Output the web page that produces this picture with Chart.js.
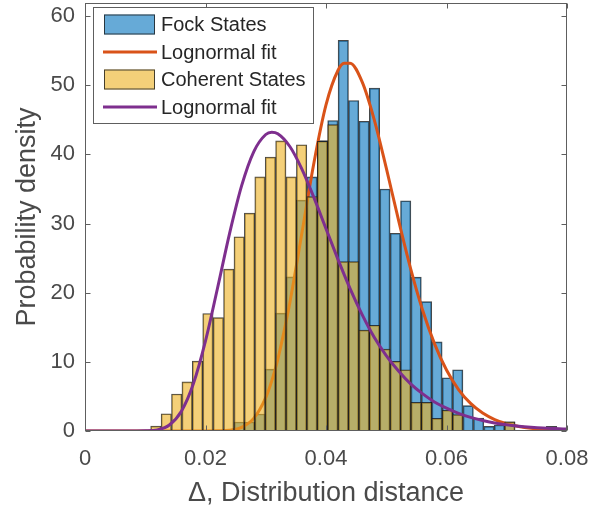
<!DOCTYPE html>
<html><head><meta charset="utf-8">
<script src="https://cdn.jsdelivr.net/npm/chart.js@4/dist/chart.umd.min.js"></script>
<style>html,body{margin:0;padding:0;background:#fff;} #wrap{width:609px;height:511px;}</style>
</head><body><div id="wrap"><canvas id="c" width="609" height="511"></canvas></div>
<script>
// ---- data ----
const binCenters = [0.01176,0.01349,0.01522,0.01695,0.01867,0.02040,0.02213,0.02386,0.02559,0.02731,
  0.02904,0.03077,0.03250,0.03423,0.03595,0.03768,0.03941,0.04114,0.04287,0.04459,
  0.04632,0.04805,0.04978,0.05151,0.05323,0.05496,0.05669,0.05842,0.06015,0.06187,
  0.06360,0.06533,0.06706,0.06879,0.07051,0.07224,0.07397,0.07570,0.07743];
const fockDensity = [0,0,0,0,0,0,0,0,1.3,1.3,
  2.46,8.96,17.05,22.3,33.4,36.75,42.0,44.9,56.5,47.8,
  44.8,49.6,35.0,28.6,33.3,22.25,18.7,12.9,7.7,8.86,
  3.66,1.88,0.68,0.87,1.34,0,0,0,0.68];
const coherentDensity = [0.7,2.5,5.35,7.1,10.1,17.0,16.4,23.4,28.1,31.5,
  36.75,39.6,41.95,36.75,41.4,33.9,41.9,44.3,24.5,24.5,
  14.6,15.3,11.85,10.07,8.86,4.14,4.14,1.83,3.0,2.36,
  0,0,0,0,1.34,0,0,0,0];
const fitX = [0,0.002,0.004,0.006,0.008,0.010,0.012,0.014,0.016,0.018,0.020,0.022,0.024,0.026,0.028,0.030,0.031,
  0.032,0.034,0.036,0.038,0.040,0.042,0.043,0.044,0.046,0.048,0.050,0.052,0.054,0.056,0.058,0.060,
  0.062,0.064,0.066,0.068,0.070,0.072,0.074,0.076,0.078,0.080];
const fockFit = [0,0,0,0,0,0,0,0,0,0,0,0.02,0.11,0.53,1.83,4.84,7.25,
  10.37,18.57,28.62,38.81,47.17,52.18,53.18,53.18,50.48,45.04,38.04,30.63,23.64,17.57,12.64,8.83,
  6.00,3.99,2.60,1.66,1.04,0.65,0.39,0.24,0.14,0.08];
const coherentFit = [0,0,0,0,0,0.02,0.16,0.86,2.85,6.86,13.03,20.68,28.59,35.48,40.38,42.88,43.22,
  43.00,41.15,37.88,33.75,29.26,24.79,22.65,20.59,16.82,13.55,10.9,8.7,6.85,5.4,4.2,3.3,
  2.55,1.97,1.52,1.17,0.9,0.7,0.55,0.43,0.35,0.28];
const xTicks = [0,0.02,0.04,0.06,0.08];
const yTicks = [0,10,20,30,40,50,60];
const seriesNames = ['Fock States','Lognormal fit','Coherent States','Lognormal fit'];
const xLabel = 'Δ, Distribution distance';
const yLabel = 'Probability density';

// ---- styling ----
const FONT = '"Liberation Sans", Arial, Helvetica, sans-serif';
const C = {
  fockFill:'rgba(0,114,189,0.6)', cohFill:'rgba(237,177,32,0.6)',
  fockLine:'#D95319', cohLine:'#7E2F8E', edge:'rgba(25,25,25,0.8)',
  axis:'#5e5e5e', text:'#4a4a4a', legendText:'#262626'
};
const pts = (xs, ys) => xs.map((x, i) => ({x: x, y: ys[i]}));

const framePlugin = {
  id: 'frame',
  afterDatasetsDraw(chart) {
    const {ctx, chartArea: a, scales: {x, y}} = chart;
    const L = Math.round(a.left) + 0.5, R = Math.round(a.right) - 0.5;
    const T = Math.round(a.top) + 0.5, B = Math.round(a.bottom) - 0.5;
    ctx.save();
    ctx.strokeStyle = C.axis; ctx.lineWidth = 1;
    ctx.strokeRect(L, T, R - L, B - T);
    const tl = 5;
    ctx.beginPath();
    xTicks.forEach(v => {
      const p = Math.round(x.getPixelForValue(v)) + 0.5;
      ctx.moveTo(p, B); ctx.lineTo(p, B - tl);
      ctx.moveTo(p, T); ctx.lineTo(p, T + tl);
    });
    yTicks.forEach(v => {
      const p = Math.round(y.getPixelForValue(v)) + 0.5;
      ctx.moveTo(L, p); ctx.lineTo(L + tl, p);
      ctx.moveTo(R, p); ctx.lineTo(R - tl, p);
    });
    ctx.stroke();
    ctx.restore();
  },
  afterDraw(chart) {
    const ctx = chart.ctx;
    ctx.save();
    const bx = 93.5, by = 7.5, bw = 220, bh = 116;
    ctx.fillStyle = '#fff';
    ctx.fillRect(bx, by, bw, bh);
    ctx.strokeStyle = C.axis; ctx.lineWidth = 1;
    ctx.strokeRect(bx, by, bw, bh);
    const rows = [24.5, 52, 79.5, 107];
    const kinds = [
      {t:'bar', c:C.fockFill}, {t:'line', c:C.fockLine},
      {t:'bar', c:C.cohFill}, {t:'line', c:C.cohLine}
    ];
    kinds.forEach((k, i) => {
      const cy = rows[i];
      if (k.t === 'bar') {
        ctx.fillStyle = '#fff'; ctx.fillRect(104, cy - 10, 51, 20);
        ctx.fillStyle = k.c; ctx.fillRect(104, cy - 10, 51, 20);
        ctx.strokeStyle = C.edge; ctx.lineWidth = 1;
        ctx.strokeRect(104.5, cy - 9.5, 50, 19);
      } else {
        ctx.strokeStyle = k.c; ctx.lineWidth = 3;
        ctx.beginPath(); ctx.moveTo(103, cy); ctx.lineTo(157, cy); ctx.stroke();
      }
      ctx.fillStyle = C.legendText;
      ctx.font = '20px ' + FONT;
      ctx.textBaseline = 'middle';
      ctx.textAlign = 'left';
      ctx.fillText(seriesNames[i], 161, cy + 1);
    });
    ctx.restore();
  }
};

new Chart(document.getElementById('c'), {
  type: 'bar',
  data: {
    datasets: [
      {type:'line', label: seriesNames[3], data: pts(fitX, coherentFit), borderColor: C.cohLine,
       borderWidth: 3, pointRadius: 0, fill: false, cubicInterpolationMode: 'monotone', order: 0},
      {type:'bar', label: seriesNames[2], data: pts(binCenters, coherentDensity), backgroundColor: C.cohFill,
       borderColor: C.edge, borderWidth: 1, grouped: false, categoryPercentage: 1, barPercentage: 1, order: 1},
      {type:'line', label: seriesNames[1], data: pts(fitX, fockFit), borderColor: C.fockLine,
       borderWidth: 3, pointRadius: 0, fill: false, cubicInterpolationMode: 'monotone', order: 2},
      {type:'bar', label: seriesNames[0], data: pts(binCenters, fockDensity), backgroundColor: C.fockFill,
       borderColor: C.edge, borderWidth: 1, grouped: false, categoryPercentage: 1, barPercentage: 1, order: 3}
    ]
  },
  options: {
    responsive: false, animation: false,
    layout: {padding: {top: 3, right: 42, bottom: 0, left: 0}},
    plugins: {legend: {display: false}, tooltip: {enabled: false}},
    scales: {
      x: {
        type: 'linear', min: 0, max: 0.08, offset: false,
        grid: {display: false, drawTicks: false}, border: {display: false},
        afterBuildTicks: s => { s.ticks = xTicks.map(v => ({value: v})); },
        ticks: {padding: 15, color: C.text, font: {family: FONT, size: 22}, maxRotation: 0, autoSkip: false,
                callback: v => String(v)},
        title: {display: true, text: xLabel, color: C.text, font: {family: FONT, size: 27}, padding: {top: 0, bottom: 1}},
        afterFit: s => { s.height = 80; s.paddingLeft = 0; s.paddingRight = 0; }
      },
      y: {
        type: 'linear', min: 0, max: 61.9,
        grid: {display: false, drawTicks: false}, border: {display: false},
        afterBuildTicks: s => { s.ticks = yTicks.map(v => ({value: v})); },
        ticks: {padding: 10, color: C.text, font: {family: FONT, size: 22}, autoSkip: false},
        title: {display: true, text: yLabel, color: C.text, font: {family: FONT, size: 27}, padding: {top: 11, bottom: 0}},
        afterFit: s => { s.width = 85; s.paddingTop = 0; s.paddingBottom = 0; }
      }
    }
  },
  plugins: [framePlugin]
});
</script>
</body></html>
